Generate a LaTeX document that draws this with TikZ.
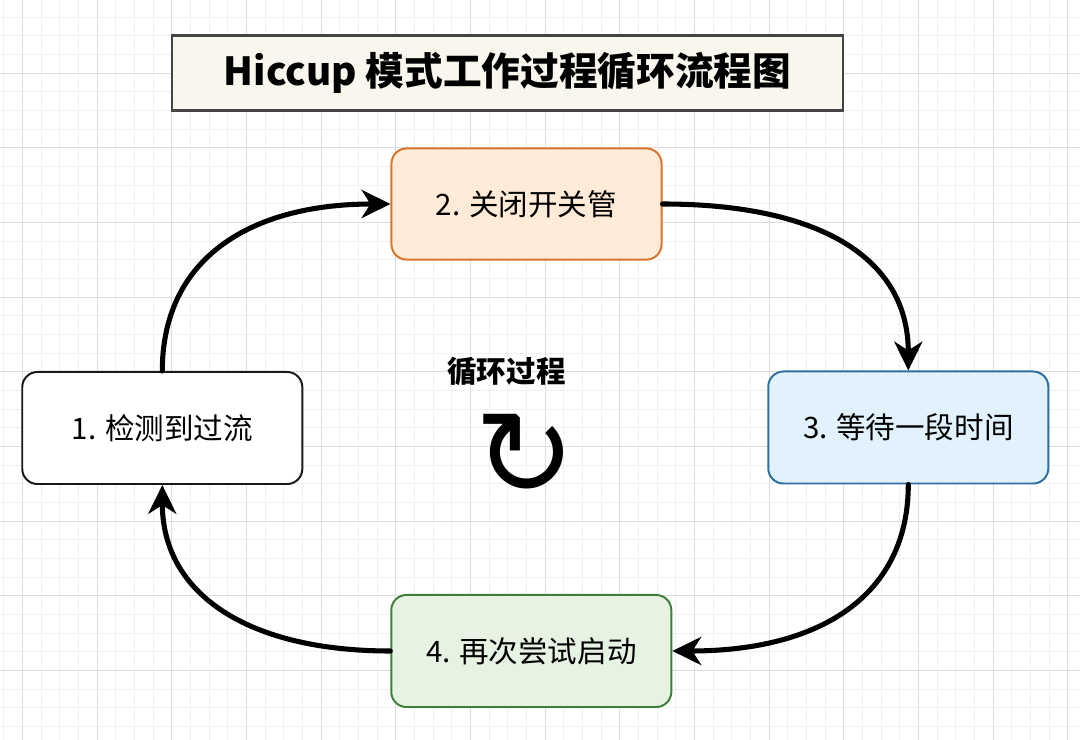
\documentclass[tikz,border=0pt]{standalone}
\usepackage{fontspec}
\setmainfont{Noto Sans CJK SC}
\newfontfamily\symbolfont{DejaVu Sans}
\usetikzlibrary{arrows.meta}
\definecolor{gridminor}{HTML}{F0F0F0}
\definecolor{gridmajor}{HTML}{DDDDDD}
\definecolor{titlefill}{HTML}{F9F7ED}
\definecolor{titleline}{HTML}{444444}
\definecolor{shutfill}{HTML}{FFEBD7}
\definecolor{shutline}{HTML}{D9742C}
\definecolor{waitfill}{HTML}{E1F2FC}
\definecolor{waitline}{HTML}{2D6FA3}
\definecolor{retryfill}{HTML}{E6F2E2}
\definecolor{retryline}{HTML}{3F7F3A}

\begin{document}
\begin{tikzpicture}[x=0.025cm,y=-0.025cm,>={Stealth[length=7.2mm,width=7mm,inset=2.2mm]},line cap=round,
  box/.style={draw=black!90,line width=1.4pt,fill=white,rounded corners=0.38cm,
    minimum width=7cm,minimum height=2.8cm,inner sep=0pt,
    font=\fontsize{21pt}{25pt}\selectfont},
  flow/.style={->,line width=3.6pt,black}]
\useasboundingbox (0,0) rectangle (1080,740);
\fill[white] (0,0) rectangle (1080,740);
% background grid
\begin{scope}
\clip (0,0) rectangle (1080,740);
\foreach \i in {0,...,57} \draw[gridminor,line width=0.6pt] ({3.63+18.667*\i},0) -- ++(0,740);
\foreach \j in {0,...,39} \draw[gridminor,line width=0.6pt] (0,{-1.67+18.667*\j}) -- ++(1080,0);
\foreach \i in {0,...,14} \draw[gridmajor,line width=0.6pt] ({22.3+74.667*\i},0) -- ++(0,740);
\foreach \j in {1,...,9} \draw[gridmajor,line width=0.6pt] (0,{-1.67+74.667*\j}) -- ++(1080,0);
\end{scope}
% title
\node[draw=titleline,fill=titlefill,line width=1.8pt,minimum width=16.77cm,minimum height=1.87cm,
  inner sep=0pt,font=\fontsize{27.5pt}{31pt}\selectfont\bfseries] (title) at (507.5,73)
  {Hiccup 模式工作过程循环流程图};
% the four steps
\node[box] (detect) at (162.3,428) {1. 检测到过流};
\node[box,draw=shutline,fill=shutfill,minimum width=6.75cm,minimum height=2.78cm] (shut) at (526.5,204) {2. 关闭开关管};
\node[box,draw=waitline,fill=waitfill] (wait) at (908.3,427.5) {3. 等待一段时间};
\node[box,draw=retryline,fill=retryfill] (retry) at (531.3,651) {4. 再次尝试启动};
% centre mark
\node[font=\fontsize{21pt}{25pt}\selectfont\bfseries] (loop) at (506.5,372) {循环过程};
\node[font=\fontsize{86pt}{96pt}\selectfont\symbolfont] (loopsign) at (525,455) {↻};
% connectors
\draw[flow] (detect.north) .. controls +(0,-112) and +(-141,0) .. (shut.west);
\draw[flow] (shut.east) .. controls +(158,0) and +(0,-112) .. (wait.north);
\draw[flow] (wait.south) .. controls +(0,111) and +(148,0) .. (retry.east);
\draw[flow] (retry.west) .. controls +(-141,0) and +(0,110) .. (detect.south);
\end{tikzpicture}
\end{document}
